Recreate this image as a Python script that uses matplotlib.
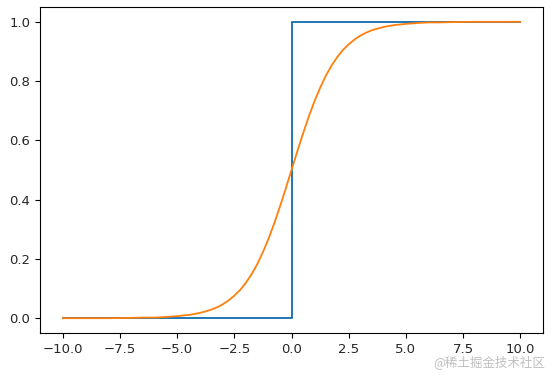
import matplotlib.pyplot as plt

# === DATA ===
step_x = [-10.0, 0.0, 0.0, 10.0]
step_y = [0.0, 0.0, 1.0, 1.0]

sig_x = [-10.0, -9.0, -8.0, -7.0, -6.5, -6.0, -5.5,
         -5.0, -4.75, -4.5, -4.25, -4.0, -3.75, -3.5, -3.25,
         -3.0, -2.75, -2.5, -2.25, -2.0, -1.75, -1.5, -1.25,
         -1.0, -0.75, -0.5, -0.25, 0.0, 0.25, 0.5, 0.75,
         1.0, 1.25, 1.5, 1.75, 2.0, 2.25, 2.5, 2.75,
         3.0, 3.25, 3.5, 3.75, 4.0, 4.25, 4.5, 4.75,
         5.0, 5.5, 6.0, 6.5, 7.0, 8.0, 9.0, 10.0]
sig_y = [0.000, 0.000, 0.000, 0.001, 0.002, 0.002, 0.004,
         0.007, 0.009, 0.011, 0.014, 0.018, 0.023, 0.029, 0.037,
         0.047, 0.060, 0.076, 0.095, 0.119, 0.148, 0.182, 0.223,
         0.269, 0.321, 0.378, 0.438, 0.500, 0.562, 0.622, 0.679,
         0.731, 0.777, 0.818, 0.852, 0.881, 0.905, 0.924, 0.940,
         0.953, 0.963, 0.971, 0.977, 0.982, 0.986, 0.989, 0.991,
         0.993, 0.996, 0.998, 0.998, 0.999, 1.000, 1.000, 1.000]

# === PLOT ===
plt.rcParams['font.size'] = 9.5
plt.rcParams['text.color'] = "#262626"
plt.rcParams['xtick.labelcolor'] = "#262626"
plt.rcParams['ytick.labelcolor'] = "#262626"
fig = plt.figure(figsize=(5.57, 3.78), dpi=100)
ax = fig.add_axes([40 / 557, 1 - 333 / 378, 503 / 557, 326 / 378])

ax.plot(step_x, step_y, color="#1f77b4", linewidth=1.4)
ax.plot(sig_x, sig_y, color="#ff7f0e", linewidth=1.3)

ax.set_xticks([-10.0, -7.5, -5.0, -2.5, 0.0, 2.5, 5.0, 7.5, 10.0])
ax.set_yticks([0.0, 0.2, 0.4, 0.6, 0.8, 1.0])

# watermark
fig.text(545 / 557, 1 - 362 / 378, "@稀土掘金技术社区", ha="right", va="center",
         fontsize=9, color="#c0c0c0", family=["Noto Sans CJK SC", "DejaVu Sans"])

fig.savefig("out.png", dpi=100)
